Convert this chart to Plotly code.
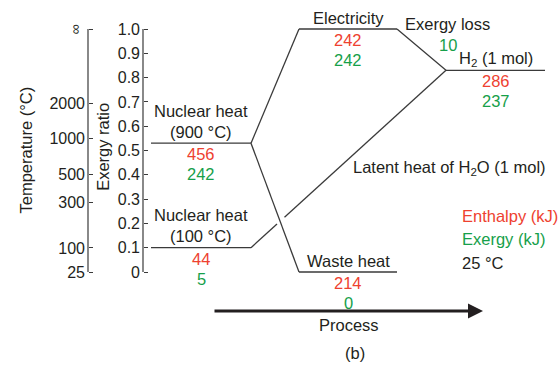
import plotly.graph_objects as go

# Energy states along the process: name, enthalpy (kJ), exergy (kJ), exergy ratio
states = ["Nuclear heat<br>(900 °C)", "Nuclear heat<br>(100 °C)", "Electricity",
          "Waste heat", "H<sub>2</sub> (1 mol)"]
enthalpy = [456, 44, 242, 214, 286]
exergy = [242, 5, 242, 0, 237]
ratio = [0.53, 0.10, 1.0, 0.0, 0.83]

# Process-stage extent of each state level
stage_start = [0.0, 0.0, 1.48, 1.48, 2.95]
stage_end = [1.0, 1.0, 2.46, 2.46, 3.94]

# Transitions between states (from index, to index)
transitions = [(0, 2), (0, 3), (2, 4)]
latent_from, latent_to = 1, 4
latent_gap = (1.26, 1.335)  # break where the waste-heat line crosses over

# Temperature scale placed against the exergy-ratio scale
temp_labels = ["25", "100", "300", "500", "1000", "2000", ""]
temp_ratio = [0.0, 0.099, 0.288, 0.40, 0.551, 0.695, 1.0]

exergy_ticks = [i / 10 for i in range(11)]
exergy_ticktext = ["0"] + [f"{v:.1f}" for v in exergy_ticks[1:]]

# Horizontal placement of the two scales (process units)
exergy_axis_x = -0.08
temp_axis_x = -0.63

RED = "#ee4130"
GREEN = "#16a04a"
INK = "#231f20"
LINE = "#3a3a3a"
FONT = "Liberation Sans, Arial, sans-serif"
TS = 16.5

fig = go.Figure()


def seg(xs, ys, width=1.3, yaxis="y"):
    fig.add_trace(go.Scatter(x=xs, y=ys, mode="lines", yaxis=yaxis,
                             line=dict(color=LINE, width=width),
                             showlegend=False, hoverinfo="skip"))


# State levels
for s, e, r in zip(stage_start, stage_end, ratio):
    seg([s, e], [r, r])

# Connectors between states
for a, b in transitions:
    seg([stage_end[a], stage_start[b]], [ratio[a], ratio[b]])

# Latent heat of water: rising line with a break at the crossing
x0, y0 = stage_end[latent_from], ratio[latent_from]
x1, y1 = stage_start[latent_to], ratio[latent_to]
slope = (y1 - y0) / (x1 - x0)
g0, g1 = latent_gap
seg([x0, g0, None, g1, x1],
    [y0, y0 + slope * (g0 - x0), None, y0 + slope * (g1 - x0), y1])

# Spines of the two scales
seg([exergy_axis_x, exergy_axis_x], [0, 1], width=1.2)
seg([temp_axis_x, temp_axis_x], [0, 1], width=1.2)

ann = []


def txt(x, y, text, color=INK, size=TS, yshift=0, xanchor="center", **kw):
    ann.append(dict(x=x, y=y, xref="x", yref="y", text=text, showarrow=False,
                    font=dict(family=FONT, size=size, color=color),
                    xanchor=xanchor, yanchor="middle", yshift=yshift, **kw))


for name, h, ex, s, e, r in zip(states, enthalpy, exergy, stage_start, stage_end, ratio):
    xc = (s + e) / 2
    two_line = "<br>" in name
    txt(xc, r, name, yshift=22 if two_line else 11)
    txt(xc, r, str(h), color=RED, yshift=-11)
    txt(xc, r, str(ex), color=GREEN, yshift=-31)

txt(2.96, 1.02, "Exergy loss")
txt(2.97, 0.934, "10", color=GREEN)
txt(2.98, 0.43, "Latent heat of H<sub>2</sub>O (1 mol)")

# Key
txt(3.09, 0.2305, "Enthalpy (kJ)", color=RED, xanchor="left")
txt(3.09, 0.1358, "Exergy (kJ)", color=GREEN, xanchor="left")
txt(3.09, 0.037, "25 °C", xanchor="left")

# Process arrow
ann.append(dict(x=3.32, y=-0.1605, ax=0.62, ay=-0.1605, xref="x", yref="y",
                axref="x", ayref="y", showarrow=True, arrowhead=2, arrowsize=1,
                arrowwidth=3, arrowcolor=INK, text=""))
txt(1.98, -0.218, "Process")
txt(2.04, -0.333, "(b)")

# Axis titles and the infinity mark
txt(-1.26, 0.50, "Temperature (°C)", textangle=-90)
txt(-0.48, 0.515, "Exergy ratio", textangle=-90)
txt(temp_axis_x - 0.11, 1.0, "∞", size=14, textangle=90)

hi = 1 + 29 / 243
lo = hi - 365 / 243

scale_common = dict(range=[lo, hi], overlaying="y", anchor="free", side="left",
                    showline=False, ticks="inside", ticklen=4, tickwidth=1.2,
                    tickcolor=LINE, showgrid=False, zeroline=False,
                    ticklabelstandoff=3,
                    tickfont=dict(family=FONT, size=16, color=INK))

fig.update_layout(
    width=560, height=365,
    margin=dict(l=0, r=0, t=0, b=0, pad=0, autoexpand=False),
    paper_bgcolor="white", plot_bgcolor="white",
    xaxis=dict(range=[-1.51, 4.09], visible=False),
    yaxis=dict(range=[lo, hi], visible=False),
    yaxis2=dict(position=(exergy_axis_x + 1.51) / 5.6, tickvals=exergy_ticks,
                ticktext=exergy_ticktext, **scale_common),
    yaxis3=dict(position=(temp_axis_x + 1.51) / 5.6, tickvals=temp_ratio,
                ticktext=temp_labels, **scale_common),
    annotations=ann,
    showlegend=False,
)

# Attach invisible placeholders so both scales are rendered
fig.add_trace(go.Scatter(x=[None], y=[None], yaxis="y2", showlegend=False))
fig.add_trace(go.Scatter(x=[None], y=[None], yaxis="y3", showlegend=False))

fig.write_html("out.html")
